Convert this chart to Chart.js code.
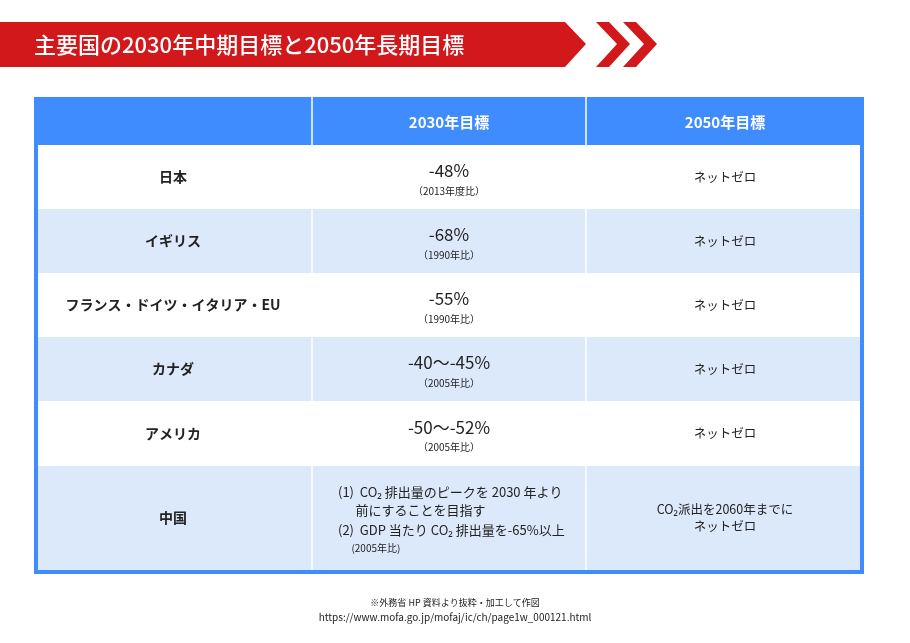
<!DOCTYPE html>
<html><head><meta charset="utf-8">
<script src="https://cdn.jsdelivr.net/npm/chart.js@4"></script>
<style>html,body{margin:0;padding:0;background:#fff}#w{width:910px;height:643px}</style>
</head><body><div id="w"><canvas id="c"></canvas></div>
<script>
const title = "主要国の2030年中期目標と2050年長期目標";
const headers = ["", "2030年目標", "2050年目標"];
const countries = ["日本", "イギリス", "フランス・ドイツ・イタリア・EU", "カナダ", "アメリカ", "中国"];
const targets2030 = ["-48%", "-68%", "-55%", "-40～-45%", "-50～-52%", ""];
const bases2030 = ["（2013年度比）", "（1990年比）", "（1990年比）", "（2005年比）", "（2005年比）", ""];
const targets2050 = ["ネットゼロ", "ネットゼロ", "ネットゼロ", "ネットゼロ", "ネットゼロ", "CO₂派出を2060年までに|ネットゼロ"];
const chinaLines = ["(1)  CO₂ 排出量のピークを 2030 年より", "      前にすることを目指す", "(2)  GDP 当たり CO₂ 排出量を-65%以上", "      (2005年比)"];
const notes = ["※外務省 HP 資料より抜粋・加工して作図", "https://www.mofa.go.jp/mofaj/ic/ch/page1w_000121.html"];

// layout (pixels in page coordinates, mapped through hidden linear scales)
const colEdges = [34, 312, 586, 864];
const rowEdges = [97, 145, 209, 273, 337, 401, 466, 570];
const F = '"Noto Sans CJK JP", "Noto Sans", sans-serif';

const tablePlugin = {
  id: 'table',
  afterDatasetsDraw(chart) {
    const ctx = chart.ctx, X = v => chart.scales.x.getPixelForValue(v), Y = v => chart.scales.y.getPixelForValue(v);
    ctx.save();
    // banner
    ctx.fillStyle = '#d2181b';
    ctx.beginPath();
    ctx.moveTo(X(0), Y(22)); ctx.lineTo(X(565), Y(22)); ctx.lineTo(X(586), Y(44)); ctx.lineTo(X(565), Y(67)); ctx.lineTo(X(0), Y(67)); ctx.closePath(); ctx.fill();
    for (const s of [596, 623]) {
      ctx.beginPath();
      ctx.moveTo(X(s), Y(22)); ctx.lineTo(X(s+13), Y(22)); ctx.lineTo(X(s+34), Y(44)); ctx.lineTo(X(s+13), Y(67)); ctx.lineTo(X(s), Y(67)); ctx.lineTo(X(s+21), Y(44)); ctx.closePath(); ctx.fill();
    }
    ctx.fillStyle = '#fff'; ctx.font = '500 22px ' + F; ctx.textBaseline = 'middle'; ctx.textAlign = 'left';
    ctx.fillText(title, X(34), Y(45));
    // table bg
    ctx.fillStyle = '#3f8cff';
    ctx.fillRect(X(colEdges[0]), Y(rowEdges[0]), X(colEdges[3]) - X(colEdges[0]), Y(rowEdges[7]+4) - Y(rowEdges[0]));
    for (let r = 0; r < countries.length; r++) {
      ctx.fillStyle = r % 2 ? '#dce9fb' : '#ffffff';
      ctx.fillRect(X(colEdges[0]+4), Y(rowEdges[r+1]), X(colEdges[3]-4) - X(colEdges[0]+4), Y(rowEdges[r+2]) - Y(rowEdges[r+1]));
    }
    ctx.strokeStyle = '#ffffff'; ctx.lineWidth = 1.5;
    for (const c of [1, 2]) { ctx.beginPath(); ctx.moveTo(X(colEdges[c]), Y(rowEdges[0])); ctx.lineTo(X(colEdges[c]), Y(rowEdges[7])); ctx.stroke(); }
    ctx.textAlign = 'center';
    ctx.fillStyle = '#fff'; ctx.font = 'bold 15px ' + F;
    for (const c of [1, 2]) ctx.fillText(headers[c], X((colEdges[c]+colEdges[c+1])/2), Y(122));
    for (let r = 0; r < countries.length; r++) {
      const cy = (rowEdges[r+1] + rowEdges[r+2]) / 2;
      ctx.fillStyle = '#222';
      ctx.font = 'bold 14px ' + F; ctx.fillText(countries[r], X((colEdges[0]+colEdges[1])/2), Y(cy));
      const m2 = (colEdges[1]+colEdges[2])/2, m3 = (colEdges[2]+colEdges[3])/2;
      if (targets2030[r]) {
        ctx.font = '17px ' + F; ctx.fillText(targets2030[r], X(m2), Y(cy - 6));
        ctx.font = '10px ' + F; ctx.fillText(bases2030[r], X(m2), Y(cy + 14));
      } else {
        ctx.textAlign = 'left';
        const ys = [-26, -8, 12, 30];
        chinaLines.forEach((t, i) => { ctx.font = (i === 3 ? '10px ' : '13px ') + F; ctx.fillText(t, X(338), Y(cy + ys[i])); });
        ctx.textAlign = 'center';
      }
      const parts = targets2050[r].split('|');
      ctx.font = '12.5px ' + F;
      parts.forEach((t, i) => ctx.fillText(t, X(m3), Y(cy + (i - (parts.length-1)/2) * 17)));
    }
    ctx.font = '9px ' + F; ctx.fillStyle = '#222';
    ctx.fillText(notes[0], X(455), Y(603));
    ctx.font = '10px ' + F; ctx.fillText(notes[1], X(455), Y(617));
    ctx.restore();
  }
};

new Chart(document.getElementById('c'), {
  type: 'scatter',
  data: { datasets: [{ data: [], pointRadius: 0 }] },
  options: {
    responsive: true, maintainAspectRatio: false, animation: false,
    layout: { padding: 0 },
    plugins: { legend: { display: false }, tooltip: { enabled: false } },
    scales: {
      x: { type: 'linear', min: 0, max: 910, display: false },
      y: { type: 'linear', min: 0, max: 643, reverse: true, display: false }
    }
  },
  plugins: [tablePlugin]
});
</script></body></html>
